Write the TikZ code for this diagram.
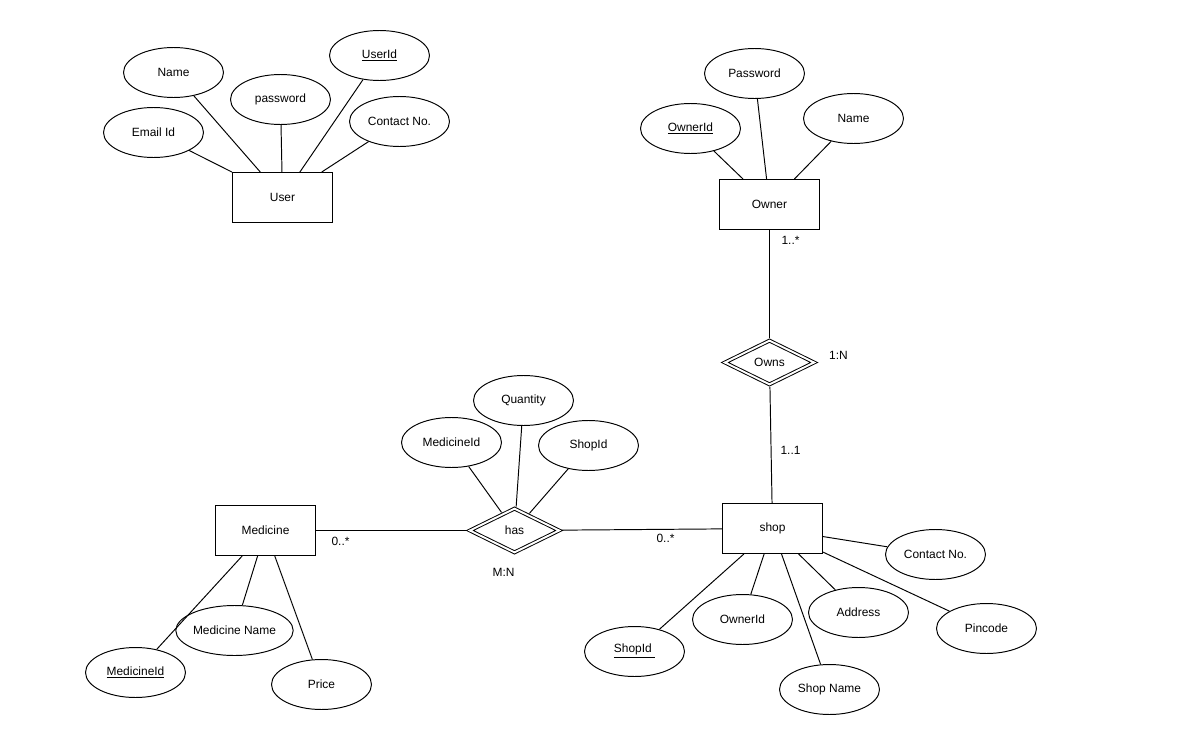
\documentclass[tikz,border=0pt]{standalone}
\usepackage{fontspec}
\setmainfont{Liberation Sans}
\usetikzlibrary{shapes.geometric}
\begin{document}
\begin{tikzpicture}[x=0.02cm,y=-0.02cm,line width=0.55pt,
	every node/.style={font=\fontsize{6.8}{8}\selectfont},
	entity/.style={draw,line width=0.55pt,minimum width=2cm,minimum height=1cm,inner sep=0pt},
	attr/.style={draw,ellipse,line width=0.55pt,minimum width=2cm,minimum height=1cm,inner sep=0pt},
	rel/.style={draw,diamond,double,double distance=1.1pt,line width=0.55pt,minimum width=1.82cm,minimum height=0.91cm,inner sep=0pt,outer sep=1.2pt},
	card/.style={inner sep=1pt}]
	\useasboundingbox (-0.5,-0.5) rectangle (1200.5,736.5) ;
		\node (user)[entity] at (282,197) {User} ; 
		\node (uname)[attr] at (173,72) {Name} ; 
		\node (upass)[attr] at (280,99) {password} ; 
		\node (uid)[attr] at (379,55) {\underline{UserId}} ; 
		\node (umail)[attr] at (153,132) {Email Id} ; 
		\node (ucontact)[attr] at (399,121) {Contact No.} ; 
	\draw (umail) -- (user) ;
	\draw (uname) -- (user) ;
	\draw (upass) -- (user) ;
	\draw (uid) -- (user) ;
	\draw (ucontact) -- (user) ;
		\node (owner)[entity] at (769,204) {Owner} ; 
		\node (opass)[attr] at (754,73) {Password} ; 
		\node (oid)[attr] at (690,128) {\underline{OwnerId}} ; 
		\node (oname)[attr] at (853,118) {Name} ; 
	\draw (oid) -- (owner) ;
	\draw (opass) -- (owner) ;
	\draw (oname) -- (owner) ;
		\node (owns)[rel] at (769,362) {Owns} ; 
		\node (shop)[entity] at (772,528) {shop} ; 
	\draw (owner) -- (owns) ;
	\draw (owns) -- (shop) ;
        \node (c1)[card] at (790,240) {1..*} ; 
        \node (c2)[card] at (838,355) {1:N} ; 
        \node (c3)[card] at (790,450) {1..1} ; 
		\node (scontact)[attr] at (935,554) {Contact No.} ; 
		\node (spin)[attr] at (986,628) {Pincode} ; 
		\node (saddr)[attr] at (858,612) {Address} ; 
		\node (sname)[attr] at (829,689) {Shop Name} ; 
		\node (sowner)[attr] at (742,619) {OwnerId} ; 
		\node (sid)[attr] at (634,651) {\underline{ShopId\ }} ; 
	\draw (sid) -- (shop) ;
	\draw (sowner) -- (shop) ;
	\draw (sname) -- (shop) ;
	\draw (saddr) -- (shop) ;
	\draw (spin) -- (shop) ;
	\draw (scontact) -- (shop) ;
		\node (has)[rel] at (514,530) {has} ; 
		\node (med)[entity] at (265,530) {Medicine} ; 
	\draw (med) -- (has) ;
	\draw (has) -- (shop) ;
        \node (c4)[card] at (340,541) {0..*} ; 
        \node (c5)[card] at (665,538) {0..*} ; 
        \node (c6)[card] at (503,572) {M:N} ; 
		\node (hqty)[attr] at (523,400) {Quantity} ; 
		\node (hmed)[attr] at (451,442) {MedicineId} ; 
		\node (hshop)[attr] at (588,445) {ShopId} ; 
	\draw (hmed) -- (has) ;
	\draw (hqty) -- (has) ;
	\draw (hshop) -- (has) ;
		\node (mid)[attr] at (135,672) {\underline{MedicineId}} ; 
		\node (mname)[attr] at (234,630) {Medicine Name} ; 
		\node (mprice)[attr] at (321,684) {Price} ; 
	\draw (mid) -- (med) ;
	\draw (mname) -- (med) ;
	\draw (mprice) -- (med) ;
\end{tikzpicture}
\end{document}
